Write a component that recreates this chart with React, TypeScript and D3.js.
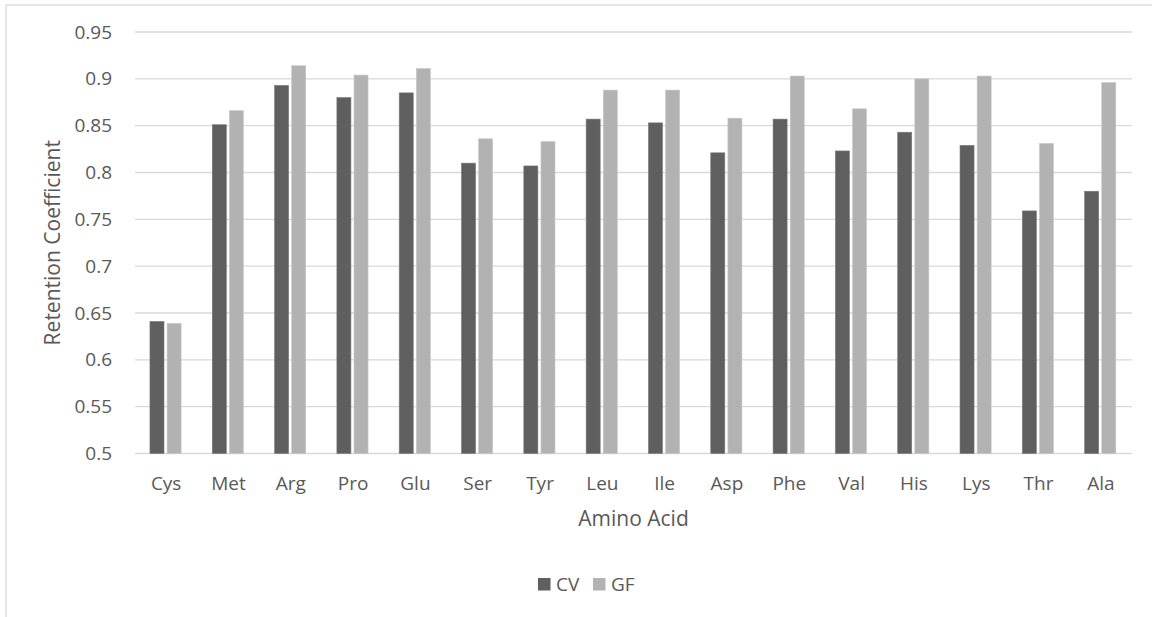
import React from "react";
import * as d3 from "d3";

const aminoAcids = ["Cys", "Met", "Arg", "Pro", "Glu", "Ser", "Tyr", "Leu", "Ile", "Asp", "Phe", "Val", "His", "Lys", "Thr", "Ala"];
const cvValues = [0.641, 0.851, 0.893, 0.88, 0.885, 0.81, 0.807, 0.857, 0.853, 0.821, 0.857, 0.823, 0.843, 0.829, 0.759, 0.78];
const gfValues = [0.639, 0.866, 0.914, 0.904, 0.911, 0.836, 0.833, 0.888, 0.888, 0.858, 0.903, 0.868, 0.9, 0.903, 0.831, 0.896];
const yTicks = [0.5, 0.55, 0.6, 0.65, 0.7, 0.75, 0.8, 0.85, 0.9, 0.95];
const seriesNames = ["CV", "GF"];
const seriesColors = ["#5f5f5f", "#b2b2b2"];

const W = 1152;
const H = 617;
const plot = { left: 135, right: 1132, top: 32, bottom: 453.5 };
const FONT = "'Open Sans', 'Segoe UI', sans-serif";
const TEXT = "#595959";
const GRID = "#d9d9d9";

export default function App() {
  const x0 = d3.scaleBand<string>().domain(aminoAcids).range([plot.left, plot.right]).padding(0);
  const bw = x0.bandwidth();
  const x1 = d3
    .scaleBand<string>()
    .domain(seriesNames)
    .range([bw * 0.24, bw * 0.74])
    .paddingInner(0.18)
    .paddingOuter(0);
  const y = d3.scaleLinear().domain([0.5, 0.95]).range([plot.bottom, plot.top]);

  const rows = aminoAcids.map((name, i) => ({ name, values: [cvValues[i], gfValues[i]] }));
  const fmt = (v: number) => String(+v.toFixed(2));

  return (
    <svg
      width={W}
      height={H}
      viewBox={`0 0 ${W} ${H}`}
      style={{ position: "absolute", left: 0, top: 0, background: "#fff", display: "block" }}
    >
      <rect x={6} y={5} width={W + 10} height={H + 10} fill="#fff" stroke={GRID} strokeWidth={1.3} />

      {yTicks.map((t) => (
        <g key={t}>
          <line x1={plot.left} x2={plot.right} y1={y(t)} y2={y(t)} stroke={GRID} strokeWidth={1.3} />
          <text
            x={plot.left - 23}
            y={y(t)}
            dy="0.35em"
            textAnchor="end"
            fontFamily={FONT}
            fontSize={19}
            fill={TEXT}
          >
            {fmt(t)}
          </text>
        </g>
      ))}

      {rows.map((r) => (
        <g key={r.name} transform={`translate(${x0(r.name)},0)`}>
          {r.values.map((v, j) => (
            <rect
              key={seriesNames[j]}
              x={x1(seriesNames[j])}
              y={y(v)}
              width={x1.bandwidth()}
              height={y(0.5) - y(v)}
              fill={seriesColors[j]}
              stroke={j === 0 ? "#7a7a7a" : "#c8c8c8"}
              strokeWidth={0.6}
            />
          ))}
          <text
            x={bw / 2}
            y={plot.bottom + 36}
            textAnchor="middle"
            fontFamily={FONT}
            fontSize={19}
            fill={TEXT}
          >
            {r.name}
          </text>
        </g>
      ))}

      <text
        x={(plot.left + plot.right) / 2}
        y={526}
        textAnchor="middle"
        fontFamily={FONT}
        fontSize={21}
        fill={TEXT}
      >
        Amino Acid
      </text>

      <text
        transform={`translate(53,${(plot.top + plot.bottom) / 2}) rotate(-90)`}
        dy="0.35em"
        textAnchor="middle"
        fontFamily={FONT}
        fontSize={21}
        fill={TEXT}
      >
        Retention Coefficient
      </text>

      {seriesNames.map((s, i) => {
        const lx = 538 + i * 55;
        return (
          <g key={s}>
            <rect x={lx} y={578} width={12.5} height={12.5} fill={seriesColors[i]} />
            <text x={lx + 18} y={584.5} dy="0.35em" fontFamily={FONT} fontSize={19} fill={TEXT}>
              {s}
            </text>
          </g>
        );
      })}
    </svg>
  );
}
